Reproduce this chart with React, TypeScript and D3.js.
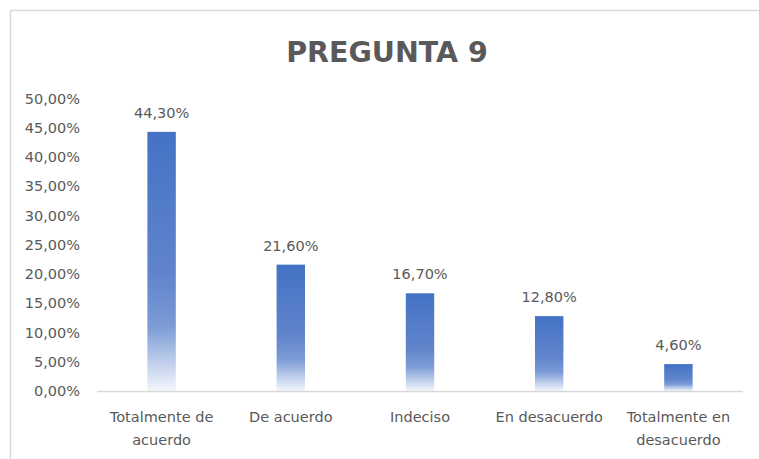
import React from "react";
import * as d3 from "d3";

const categories: string[][] = [
  ["Totalmente de", "acuerdo"],
  ["De acuerdo"],
  ["Indeciso"],
  ["En desacuerdo"],
  ["Totalmente en", "desacuerdo"],
];
const values: number[] = [44.3, 21.6, 16.7, 12.8, 4.6];
const yTicks: number[] = [0, 5, 10, 15, 20, 25, 30, 35, 40, 45, 50];
const title = "PREGUNTA 9";

const W = 759;
const H = 459;
const plotLeft = 97;
const plotRight = 743;
const plotTop = 98.5;
const plotBottom = 391;
const FONT = "'DejaVu Sans', sans-serif";
const TEXT = "#595959";

const fmt = (v: number) => v.toFixed(2).replace(".", ",") + "%";

export default function App() {
  const x = d3
    .scaleBand<number>()
    .domain(values.map((_, i) => i))
    .range([plotLeft, plotRight])
    .paddingInner(0.78)
    .paddingOuter(0.39);
  const y = d3.scaleLinear().domain([0, 50]).range([plotBottom, plotTop]);

  return (
    <svg
      width={W}
      height={H}
      style={{ position: "absolute", left: 0, top: 0, background: "#fff" }}
    >
      <defs>
        <linearGradient id="barGrad" x1="0" y1="0" x2="0" y2="1">
          <stop offset="0" stopColor="#4472c4" />
          <stop offset="0.55" stopColor="#6084cc" />
          <stop offset="0.75" stopColor="#7c9bd6" />
          <stop offset="1" stopColor="#f4f7fc" />
        </linearGradient>
      </defs>
      <rect x={0} y={0} width={W} height={H} fill="#fff" />
      {/* frame */}
      <line x1={10} y1={10.5} x2={W} y2={10.5} stroke="#d9d9d9" strokeWidth={1.5} />
      <line x1={10.5} y1={10} x2={10.5} y2={H} stroke="#d9d9d9" strokeWidth={1.5} />

      <text
        x={387}
        y={62}
        textAnchor="middle"
        fontFamily={FONT}
        fontWeight="bold"
        fontSize={28.5}
        fill={TEXT}
      >
        {title}
      </text>

      {yTicks.map((t) => (
        <text
          key={t}
          x={80}
          y={y(t)}
          dy="0.36em"
          textAnchor="end"
          fontFamily={FONT}
          fontSize={14.5}
          fill={TEXT}
        >
          {fmt(t)}
        </text>
      ))}

      {values.map((v, i) => (
        <rect
          key={i}
          x={x(i)}
          y={y(v)}
          width={x.bandwidth()}
          height={y(0) - y(v)}
          fill="url(#barGrad)"
        />
      ))}

      <line
        x1={plotLeft}
        x2={plotRight}
        y1={plotBottom + 0.5}
        y2={plotBottom + 0.5}
        stroke="#d9d9d9"
        strokeWidth={1.5}
      />

      {values.map((v, i) => (
        <text
          key={i}
          x={(x(i) as number) + x.bandwidth() / 2}
          y={y(v) - 14}
          textAnchor="middle"
          fontFamily={FONT}
          fontSize={14.5}
          fill={TEXT}
        >
          {fmt(v)}
        </text>
      ))}

      {categories.map((lines, i) => (
        <text
          key={i}
          x={(x(i) as number) + x.bandwidth() / 2}
          y={417}
          textAnchor="middle"
          fontFamily={FONT}
          fontSize={14.5}
          fill={TEXT}
        >
          {lines.map((l, j) => (
            <tspan
              key={j}
              x={(x(i) as number) + x.bandwidth() / 2}
              dy={j === 0 ? "0.36em" : 23}
            >
              {l}
            </tspan>
          ))}
        </text>
      ))}
    </svg>
  );
}
